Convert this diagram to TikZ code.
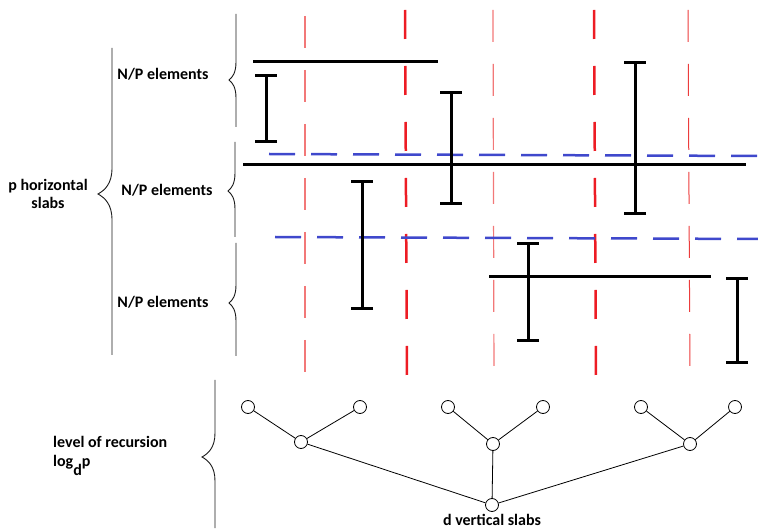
\documentclass[tikz,border=0pt]{standalone}
\usepackage{fontspec}
\setmainfont{Carlito}
\usetikzlibrary{arrows.meta}
\definecolor{bluedash}{RGB}{63,72,204}
\definecolor{redthick}{RGB}{237,28,36}
\definecolor{redlight}{RGB}{242,120,120}
\definecolor{redthin}{RGB}{236,60,60}
\tikzset{
 lbl/.style={font=\bfseries\fontsize{16}{18.5}\selectfont, inner sep=0pt},
 hbar/.style={line width=3pt, black},
 ibar/.style={line width=3pt, black, {Bar[width=22pt]}-{Bar[width=22pt]}},
 bracestyle/.style={line width=0.9pt, black!90},
 vthick/.style={redthick, line width=2.5pt, dash pattern=on 29pt off 27pt},
 vthin/.style={redlight, line width=1.2pt, dash pattern=on 32pt off 22pt},
 vthinb/.style={redthin, line width=1pt, dash pattern=on 32pt off 22pt},
 hblue/.style={bluedash, line width=2.5pt, dash pattern=on 26pt off 16pt},
 tnode/.style={circle, draw, line width=0.8pt, minimum size=13pt, inner sep=0pt, fill=white},
 tedge/.style={line width=0.8pt}
}
% #1 x, #2 top, #3 tip y, #4 bottom, #5 depth, #6 curl half-height
\newcommand\mybrace[6]{%
 \draw[bracestyle] (#1,#2) -- (#1,{#3-#6})
   .. controls (#1,{#3-0.4*#6}) and ({#1-0.5*#5},{#3-0.15*#6}) .. ({#1-#5},#3)
   .. controls ({#1-0.5*#5},{#3+0.15*#6}) and (#1,{#3+0.4*#6}) .. (#1,{#3+#6})
   -- (#1,#4);}
\begin{document}
\begin{tikzpicture}[x=1pt,y=-1pt]
\useasboundingbox (0,0) rectangle (758,529);
% red vertical dashed lines
\draw[vthin]  (305,16) -- (305,382);
\draw[vthick] (405,10) -- (407,382);
\draw[vthin]  (493,10) -- (494,382);
\draw[vthick] (594,10) -- (596,382);
\draw[vthinb] (688,10) -- (690,382);
% blue horizontal dashed lines
\draw[hblue] (269,154) -- (758,156);
\draw[hblue] (275,237) -- (758,239);
% black horizontal segments
\draw[hbar] (253,62) -- (438,62);
\draw[hbar] (243,165) -- (746,165);
\draw[hbar] (489,277) -- (711,277);
% black I-bars
\draw[ibar] (266,74) -- (266,143);
\draw[ibar] (451,91) -- (451,205);
\draw[ibar] (635,61) -- (635,215);
\draw[ibar] (362,180) -- (362,310);
\draw[ibar] (528,242) -- (528,342);
\draw[ibar] (737,277) -- (737,364);
% braces
\mybrace{112}{48}{194}{355}{14}{26}
\mybrace{236}{14}{80}{127}{7}{18}
\mybrace{235}{142}{191}{237}{7}{18}
\mybrace{236}{243}{303}{356}{7}{18}
\mybrace{215}{380}{457}{528}{13}{24}
% labels
\node[lbl, align=center] (phs) at (48,194) {p horizontal\\slabs};
\node[lbl] (np1) at (163,74) {N/P elements};
\node[lbl] (np2) at (167,190) {N/P elements};
\node[lbl] (np3) at (163,302) {N/P elements};
\node[lbl, align=left, anchor=west] (lvl) at (53,456) {level of recursion\\log\raisebox{-0.55em}{d}p};
% tree
\node[tnode] (l1) at (248,407) {};
\node[tnode] (l2) at (360,407) {};
\node[tnode] (l3) at (448,407) {};
\node[tnode] (l4) at (543,407) {};
\node[tnode] (l5) at (641,407) {};
\node[tnode] (l6) at (735,407) {};
\node[tnode] (m1) at (301,442) {};
\node[tnode] (m2) at (493,444) {};
\node[tnode] (m3) at (690,444) {};
\node[tnode] (rt) at (492,505) {};
\draw[tedge] (l1) -- (m1);
\draw[tedge] (l2) -- (m1);
\draw[tedge] (l3) -- (m2);
\draw[tedge] (l4) -- (m2);
\draw[tedge] (l5) -- (m3);
\draw[tedge] (l6) -- (m3);
\draw[tedge] (m1) -- (rt);
\draw[tedge] (m2) -- (rt);
\draw[tedge] (m3) -- (rt);
\node[lbl] (dvs) at (492,520) {d vertical slabs};
\end{tikzpicture}
\end{document}
